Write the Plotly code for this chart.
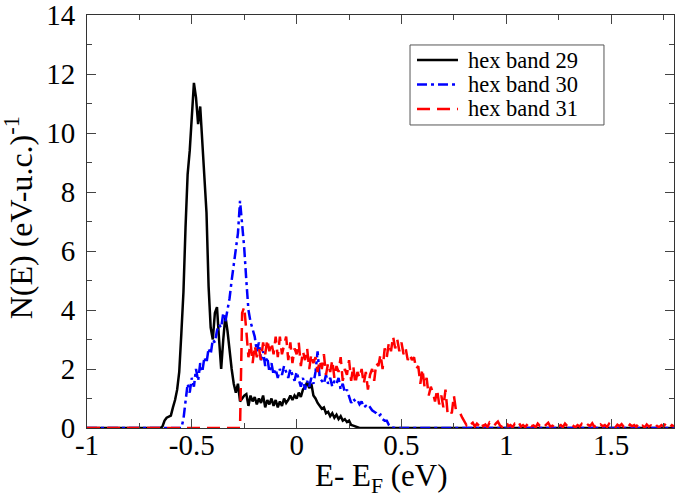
import numpy as np
import plotly.graph_objects as go

# Energy grid (eV), step 0.01 from -1.00 to 1.80
energy = [round(-1.0 + 0.01 * i, 2) for i in range(281)]

# hex band 29 : non-zero between -0.64 and 0.29
band29_start = -0.64
band29_vals = [0.05, 0.25, 0.35, 0.40, 0.42, 0.70, 0.95, 1.30, 1.90, 3.20,
               4.60, 6.80, 8.60, 9.40, 10.50, 11.70, 11.20, 10.30, 10.90, 9.50,
               8.50, 7.30, 4.80, 3.40, 3.00, 3.90, 4.10, 3.00, 2.00, 3.00,
               3.80, 3.30, 2.60, 2.00, 1.50, 1.20, 1.50, 0.90, 1.00, 1.10,
               1.15, 0.75, 1.10, 0.90, 1.05, 0.80, 1.00, 0.85, 1.10, 0.70,
               0.95, 0.80, 1.00, 0.75, 0.95, 0.70, 0.90, 0.75, 1.00, 0.85,
               0.95, 1.10, 0.95, 1.10, 1.00, 1.20, 1.05, 1.30, 1.40, 1.55,
               1.35, 1.50, 1.10, 1.00, 0.85, 0.75, 0.65, 0.70, 0.50, 0.55,
               0.40, 0.50, 0.35, 0.45, 0.30, 0.40, 0.25, 0.30, 0.20, 0.25,
               0.10, 0.08, 0.05, 0.02]

# hex band 30 : non-zero between -0.54 and 0.45
band30_start = -0.54
band30_vals = [0.30, 1.00, 1.50, 1.20, 1.70, 1.40, 2.00, 1.60, 2.20, 1.90,
               2.40, 2.20, 2.70, 2.50, 3.00, 2.90, 3.30, 3.50, 3.40, 3.90,
               3.60, 4.00, 4.40, 5.00, 5.60, 6.00, 6.60, 7.70, 6.90, 6.10,
               5.00, 4.00, 3.60, 3.30, 3.10, 2.60, 2.90, 2.30, 2.60, 2.10,
               2.40, 1.90, 2.20, 1.80, 2.00, 1.70, 2.00, 1.80, 2.10, 1.90,
               1.70, 2.00, 1.80, 1.60, 1.90, 1.60, 1.40, 1.70, 1.30, 1.60,
               1.40, 1.70, 1.50, 1.90, 2.60, 1.70, 1.60, 1.50, 1.80, 1.50,
               1.70, 1.40, 1.60, 1.50, 1.70, 1.30, 1.50, 1.20, 1.30, 1.10,
               0.85, 1.00, 0.90, 0.95, 0.80, 0.90, 0.70, 0.75, 0.65, 0.70,
               0.60, 0.55, 0.50, 0.40, 0.45, 0.30, 0.25, 0.25, 0.10, 0.02]

# hex band 31 : non-zero from -0.26 to the end of the grid
band31_start = -0.26
band31_vals = [3.90, 4.10, 3.30, 2.40, 2.90, 2.20, 2.80, 2.40, 2.70, 2.30,
               2.90, 2.50, 3.00, 2.60, 2.90, 2.50, 3.10, 2.40, 3.10, 2.50,
               2.80, 3.10, 2.30, 2.90, 2.20, 2.70, 2.50, 2.90, 2.10, 2.60,
               2.30, 2.70, 2.00, 2.50, 2.20, 2.40, 1.90, 2.30, 2.00, 2.50,
               1.80, 2.20, 1.90, 2.30, 1.70, 2.10, 1.90, 2.40, 1.60, 2.00,
               1.80, 2.30, 1.60, 2.10, 1.50, 1.90, 1.70, 2.00, 1.50, 1.90,
               1.30, 1.80, 2.00, 1.60, 2.20, 2.10, 2.50, 2.00, 2.70, 2.40,
               2.90, 2.60, 3.10, 2.70, 3.00, 2.60, 2.90, 2.50, 2.70, 2.30,
               2.50, 2.30, 2.40, 2.00, 2.10, 1.50, 2.00, 1.40, 1.70, 1.10,
               1.40, 1.20, 0.90, 1.30, 0.80, 1.10, 0.70, 1.30, 0.50, 0.60,
               0.50, 1.10, 0.60, 0.55, 0.50, 0.35, 0.20, 0.10, 0.20, 0.12,
               0.18, 0.05, 0.15, 0.08, 0.20, 0.06, 0.12, 0.03, 0.18, 0.10,
               0.05, 0.15, 0.22, 0.08, 0.04, 0.12, 0.20, 0.06, 0.10, 0.02,
               0.14, 0.08, 0.18, 0.05, 0.10, 0.03, 0.12, 0.20, 0.06, 0.09,
               0.02, 0.15, 0.07, 0.12, 0.04, 0.10, 0.18, 0.05, 0.08, 0.02,
               0.12, 0.06, 0.10, 0.03, 0.15, 0.07, 0.04, 0.12, 0.08, 0.02,
               0.10, 0.05, 0.14, 0.06, 0.03, 0.11, 0.07, 0.16, 0.04, 0.09,
               0.02, 0.12, 0.06, 0.10, 0.03, 0.14, 0.05, 0.08, 0.02, 0.11,
               0.06, 0.13, 0.04, 0.09, 0.02, 0.12, 0.06, 0.10, 0.03, 0.16,
               0.05, 0.08, 0.02, 0.12, 0.05, 0.09, 0.04, 0.14, 0.06, 0.03,
               0.10, 0.05, 0.15, 0.06, 0.02, 0.10, 0.05]

band_names = ["hex band 29", "hex band 30", "hex band 31"]
x_tickvals = [-1, -0.5, 0, 0.5, 1, 1.5]
x_ticktext = ["-1", "-0.5", "0", "0.5", "1", "1.5"]
y_tickvals = [0, 2, 4, 6, 8, 10, 12, 14]
y_ticktext = ["0", "2", "4", "6", "8", "10", "12", "14"]
x_title = "E- E<sub>F</sub> (eV)"
y_title = "N(E) (eV-u.c.)<sup>-1</sup>"


def full_series(start, vals):
    i0 = energy.index(round(start, 2))
    ys = [0.0] * i0 + list(vals)
    ys = ys + [0.0] * (len(energy) - len(ys))
    return ys[:len(energy)]


series = [full_series(band29_start, band29_vals),
          full_series(band30_start, band30_vals),
          full_series(band31_start, band31_vals)]
colors = ["black", "blue", "red"]
dashes = ["solid", "10px,4px,3px,4px", "13px,7px"]

FONT = '"Liberation Serif", "Times New Roman", Times, serif'

fig = go.Figure()
for name, ys, c, d in zip(band_names, series, colors, dashes):
    fig.add_trace(go.Scatter(x=energy, y=ys, mode="lines", name=name,
                             showlegend=False,
                             line=dict(color=c, width=2.5, dash=d)))

axis_common = dict(showgrid=False, zeroline=False, showline=True,
                   linecolor="#333", linewidth=1, mirror="ticks",
                   ticks="inside", ticklen=9, tickcolor="#444", tickwidth=1,
                   automargin=False, ticklabeloverflow="allow",
                   tickfont=dict(family=FONT, size=29, color="black"))

fig.update_xaxes(range=[-1, 1.8], tickmode="array", tickvals=x_tickvals,
                 ticktext=x_ticktext, ticklabelstandoff=-9,
                 minor=dict(dtick=0.25, ticks="inside", ticklen=5,
                            tickcolor="#444", tick0=-1),
                 **axis_common)
fig.update_yaxes(range=[0, 14], tickmode="array", tickvals=y_tickvals,
                 ticktext=y_ticktext, ticklabelstandoff=5,
                 minor=dict(dtick=1, ticks="inside", ticklen=5,
                            tickcolor="#444", tick0=0),
                 **axis_common)

# axis titles
fig.add_annotation(text=x_title, xref="paper", yref="paper",
                   x=0.501, y=-0.068, xanchor="center", yanchor="top",
                   showarrow=False,
                   font=dict(family=FONT, size=31, color="black"))
fig.add_annotation(text=y_title, xref="paper", yref="paper",
                   x=-0.116, y=0.51, xanchor="center", yanchor="middle",
                   textangle=-90, showarrow=False,
                   font=dict(family=FONT, size=32, color="black"))

# legend box drawn in the upper right of the plot
leg_x0, leg_x1, leg_y0, leg_y1 = 0.5503, 0.8807, 0.7337, 0.9274
row_y = [0.8910, 0.8317, 0.7724]
fig.add_shape(type="rect", xref="paper", yref="paper",
              x0=leg_x0, x1=leg_x1, y0=leg_y0, y1=leg_y1,
              line=dict(color="#555", width=1), fillcolor="white", layer="above")
for name, c, d, ry in zip(band_names, colors, dashes, row_y):
    fig.add_shape(type="line", xref="paper", yref="paper",
                  x0=0.5622, x1=0.6320, y0=ry, y1=ry, layer="above",
                  line=dict(color=c, width=2.5, dash=d))
    fig.add_annotation(text=name, xref="paper", yref="paper",
                       x=0.6475, y=ry, xanchor="left", yanchor="middle",
                       showarrow=False, borderpad=0,
                       font=dict(family=FONT, size=22.5, color="black"))

fig.update_layout(
    width=675, height=500,
    margin=dict(l=87, r=1, t=15, b=72),
    paper_bgcolor="white", plot_bgcolor="white",
    showlegend=False,
    font=dict(family=FONT),
)

fig.write_html("out.html", config={"displayModeBar": False},
               post_script="document.body.style.margin='0';")
